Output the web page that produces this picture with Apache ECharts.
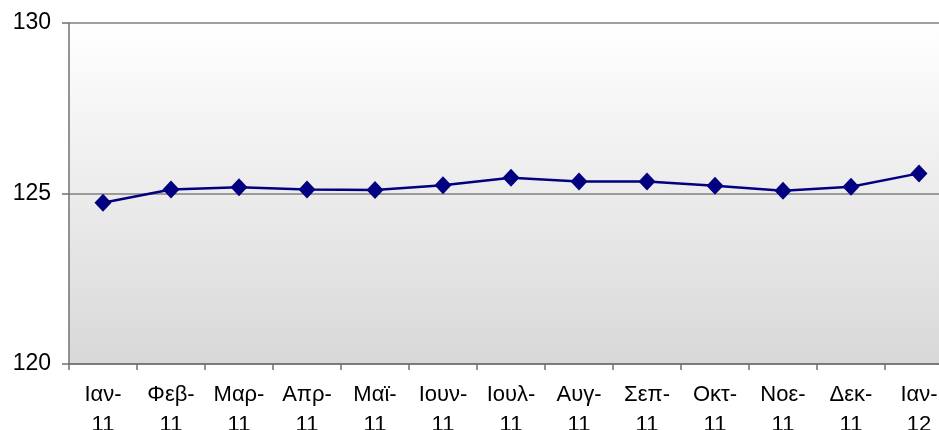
<!DOCTYPE html>
<html>
<head>
<meta charset="utf-8">
<script src="https://cdn.jsdelivr.net/npm/echarts@6/dist/echarts.min.js"></script>
<style>html,body{margin:0;padding:0;background:#fff;}#c{width:939px;height:430px;}</style>
</head>
<body>
<div id="c"></div>
<script>
const categories = ['Ιαν-\n11','Φεβ-\n11','Μαρ-\n11','Απρ-\n11','Μαϊ-\n11','Ιουν-\n11','Ιουλ-\n11','Αυγ-\n11','Σεπ-\n11','Οκτ-\n11','Νοε-\n11','Δεκ-\n11','Ιαν-\n12'];
const values = [124.73,125.12,125.18,125.12,125.10,125.24,125.46,125.35,125.35,125.23,125.08,125.20,125.59];
const yMin = 120, yMax = 130, yStep = 5;

const chart = echarts.init(document.getElementById('c'), null, {renderer:'canvas'});
const font = 'Arial, "Liberation Sans", sans-serif';
chart.setOption({
  animation: false,
  grid: {
    left: 69, top: 23, bottom: 66, width: 884,
    containLabel: false, outerBoundsMode: 'none',
    show: true, borderWidth: 0,
    backgroundColor: new echarts.graphic.LinearGradient(0,0,0,1,[
      {offset:0,color:'#ffffff'},{offset:1,color:'#d8d8d8'}
    ])
  },
  xAxis: {
    type: 'category', data: categories, boundaryGap: true,
    axisLine: {lineStyle:{color:'#707070', width:1.5}},
    axisTick: {show:true, length:6, lineStyle:{color:'#707070', width:1.5}},
    axisLabel: {color:'#000', fontFamily:font, fontSize:22, lineHeight:30, margin:16, interval:0}
  },
  yAxis: {
    type: 'value', min: yMin, max: yMax, interval: yStep,
    axisLine: {show:true, lineStyle:{color:'#707070', width:1.5}},
    axisTick: {show:true, length:7, lineStyle:{color:'#707070', width:1.5}},
    splitLine: {show:true, lineStyle:{color:'#808080', width:1.5}},
    axisLabel: {color:'#000', fontFamily:font, fontSize:23, margin:18}
  },
  series: [{
    type: 'line', data: values,
    symbol: 'diamond', symbolSize: [17,18],
    lineStyle: {color:'#000080', width:2.5},
    itemStyle: {color:'#000080'}
  }]
});
</script>
</body>
</html>
